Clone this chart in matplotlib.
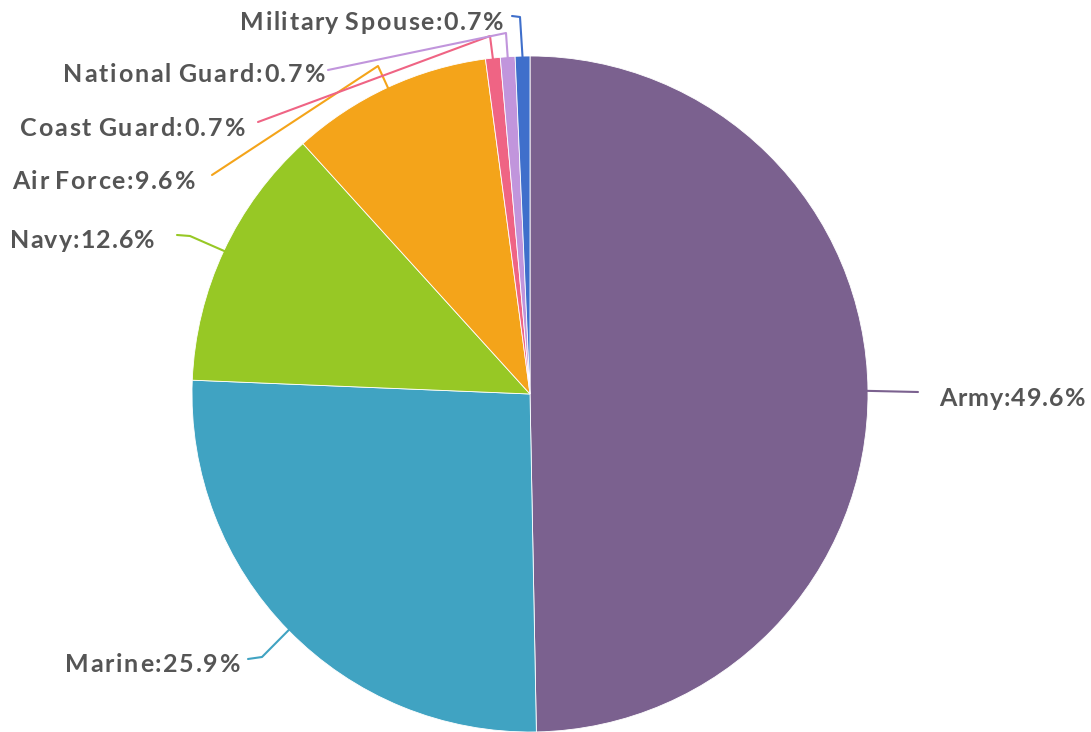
import numpy as np
import matplotlib.pyplot as plt
from matplotlib.font_manager import FontProperties, findfont, get_font

labels = ["Army", "Marine", "Navy", "Air Force", "Coast Guard", "National Guard", "Military Spouse"]
values = [49.6, 25.9, 12.6, 9.6, 0.7, 0.7, 0.7]
colors = ["#7B618F", "#40A3C2", "#97C825", "#F4A41A", "#EF6484", "#C195DC", "#3F6FCB"]

# label layout in pixel space (x, y from top): elbow point, line end, text span
elbows = [None, (262, 657), (190, 236), (378, 66), (490, 36), (506, 33), (520, 17)]
line_ends = [(918, 392), (248, 659), (177, 235), (212, 175), (258, 122), (328, 70), (512, 16)]
text_left = [939, 65, 10, 12, 20, 63, 240]
text_right = [1083, 238, 153, 193, 243, 323, 502]
text_base = [406, 672, 248, 189, 136, 82, 30]

W, H = 1091, 732
cx, cy, R = 530, 394, 338
FS = 18

fig = plt.figure(figsize=(W / 100, H / 100), dpi=100)
ax = fig.add_axes([0, 0, 1, 1])

ax.pie(values, colors=colors, startangle=90, counterclock=False,
       center=(cx, H - cy), radius=R,
       wedgeprops=dict(edgecolor="white", linewidth=0.6))

# pie() resets the limits, so set them afterwards (1 data unit = 1 pixel)
ax.set_xlim(0, W)
ax.set_ylim(0, H)
ax.set_aspect("equal")
ax.axis("off")

prop = FontProperties(family="Lato", weight="bold", size=FS)
font = get_font(findfont(prop))
font.set_size(FS, 100)


def advance(c):
    w = font.load_char(ord(c)).linearHoriAdvance / 65536
    if c == " ":
        w *= 0.5  # the reference squeezes word gaps
    return w


def spaced_text(s, left, right, base):
    # matplotlib has no letter-spacing, so place the glyphs one by one
    widths = [advance(c) for c in s]
    natural = sum(widths[:-1]) + font.load_char(ord(s[-1])).width / 64
    gap = (right - left - natural) / (len(s) - 1)
    x = left
    for c, w in zip(s, widths):
        if c != " ":
            ax.text(x, H - base, c, ha="left", va="baseline", fontproperties=prop,
                    color="#555555")
        x += w + gap


total = sum(values)
cum = 0
for i, (lab, v) in enumerate(zip(labels, values)):
    mid = (cum + v / 2) / total * 2 * np.pi
    cum += v
    r0 = R - 2
    sx = cx + r0 * np.sin(mid)
    sy = cy - r0 * np.cos(mid)
    pts = [(sx, sy)]
    if elbows[i] is not None:
        pts.append(elbows[i])
    pts.append(line_ends[i])
    xs = [p[0] for p in pts]
    ys = [H - p[1] for p in pts]
    ax.plot(xs, ys, color=colors[i], lw=1.5, solid_capstyle="round", zorder=3)
    spaced_text(f"{lab}:{v:.1f}%", text_left[i], text_right[i], text_base[i])

fig.savefig("out.png", dpi=100)
